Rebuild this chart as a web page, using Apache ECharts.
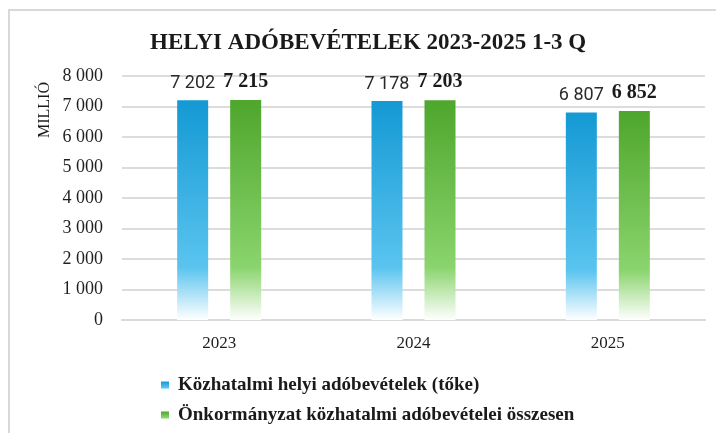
<!DOCTYPE html>
<html>
<head>
<meta charset="utf-8">
<script src="https://cdn.jsdelivr.net/npm/echarts@6/dist/echarts.min.js"></script>
<style>
  html, body { margin: 0; padding: 0; background: #fff; }
  #chart { width: 716px; height: 433px; }
</style>
</head>
<body>
<div id="chart"></div>
<script>
const years = ['2023', '2024', '2025'];
const helyiAdo = [7202, 7178, 6807];
const onkormanyzatOsszes = [7215, 7203, 6852];
const seriesNames = [
  'Közhatalmi helyi adóbevételek (tőke)',
  'Önkormányzat közhatalmi adóbevételei összesen'
];

// szóközös ezres tagolás: 7202 -> "7 202"
function fmt(v) {
  return String(v).replace(/\B(?=(\d{3})+(?!\d))/g, ' ');
}

function fade(top, mid) {
  return new echarts.graphic.LinearGradient(0, 0, 0, 1, [
    { offset: 0, color: top },
    { offset: 0.76, color: mid },
    { offset: 1, color: '#ffffff' }
  ]);
}

const legendText = {
  fontFamily: 'Liberation Serif',
  fontWeight: 'bold',
  fontSize: 19,
  color: '#1a1a1a',
  padding: [0, 0, 0, 4]
};

const chart = echarts.init(document.getElementById('chart'));

chart.setOption({
  animation: false,
  backgroundColor: '#fff',
  title: {
    text: 'HELYI ADÓBEVÉTELEK 2023-2025 1-3 Q',
    left: 145,
    top: 27,
    textStyle: {
      fontFamily: 'Liberation Serif',
      fontWeight: 'bold',
      fontSize: 23,
      color: '#1a1a1a'
    }
  },
  graphic: [
    {
      type: 'rect',
      shape: { x: 9, y: 10, width: 760, height: 460 },
      style: { fill: 'none', stroke: '#d9d9d9', lineWidth: 2 },
      silent: true
    },
    {
      type: 'text',
      x: 45,
      y: 110,
      rotation: Math.PI / 2,
      style: {
        text: 'MILLIÓ',
        font: '16px "Liberation Serif"',
        fill: '#1a1a1a',
        align: 'center',
        verticalAlign: 'middle'
      }
    }
  ],
  // két sor, egymás alatt
  legend: [
    {
      left: 156, top: 371,
      itemWidth: 8, itemHeight: 8, icon: 'rect',
      textStyle: legendText,
      data: [seriesNames[0]]
    },
    {
      left: 156, top: 401,
      itemWidth: 8, itemHeight: 8, icon: 'rect',
      textStyle: legendText,
      data: [seriesNames[1]]
    }
  ],
  grid: {
    left: 122,
    right: 11,
    top: 76,
    bottom: 113
  },
  xAxis: {
    type: 'category',
    data: years,
    axisTick: { show: false },
    axisLine: { lineStyle: { color: '#d9d9d9', width: 2 } },
    axisLabel: {
      margin: 15,
      fontFamily: 'Liberation Serif',
      fontSize: 17,
      color: '#1f1f1f'
    }
  },
  yAxis: {
    type: 'value',
    min: 0,
    max: 8000,
    interval: 1000,
    axisLine: { show: false },
    axisTick: { show: false },
    splitLine: { lineStyle: { color: '#dcdcdc', width: 2 } },
    axisLabel: {
      margin: 19,
      fontFamily: 'Liberation Serif',
      fontSize: 18,
      color: '#1f1f1f',
      formatter: fmt
    }
  },
  series: [
    {
      name: seriesNames[0],
      type: 'bar',
      data: helyiAdo,
      barWidth: 31,
      barGap: '71%',
      itemStyle: { color: fade('#1499d4', '#5ac4ef') },
      label: {
        show: true,
        position: 'top',
        distance: 8,
        fontFamily: 'Roboto',
        fontSize: 18,
        color: '#2a2a2a',
        formatter: p => fmt(p.value)
      }
    },
    {
      name: seriesNames[1],
      type: 'bar',
      data: onkormanyzatOsszes,
      barWidth: 31,
      itemStyle: { color: fade('#4ea62c', '#8ad46d') },
      label: {
        show: true,
        position: 'top',
        distance: 8,
        fontFamily: 'Liberation Serif',
        fontWeight: 'bold',
        fontSize: 20,
        color: '#1a1a1a',
        formatter: p => fmt(p.value)
      }
    }
  ]
});
</script>
</body>
</html>
